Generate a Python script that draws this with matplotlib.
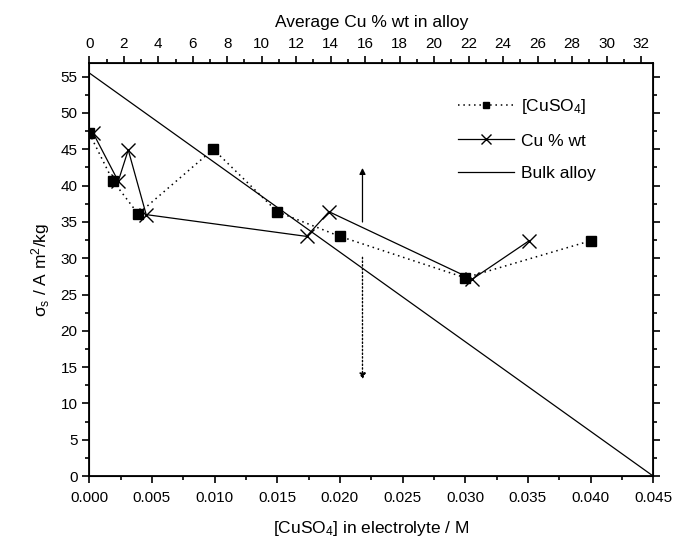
import numpy as np
import matplotlib.pyplot as plt
from matplotlib.ticker import MultipleLocator

plt.rcParams['font.family'] = ['Liberation Sans', 'DejaVu Sans']
plt.rcParams['mathtext.default'] = 'regular'

# [CuSO4] series (bottom axis)
conc = [0.0, 0.0019, 0.0039, 0.0099, 0.015, 0.020, 0.030, 0.040]
sig_conc = [47.2, 40.6, 36.1, 45.0, 36.4, 33.0, 27.3, 32.4]

# Cu % wt series (top axis)
cu_wt = [0.23, 1.68, 2.26, 3.3, 12.6, 13.9, 22.2, 25.5]
sig_cu = [47.2, 40.6, 44.9, 36.0, 33.0, 36.4, 27.1, 32.4]

# bulk alloy line (bottom axis)
bulk_x = [0.0, 0.045]
bulk_y = [55.5, 0.0]

fig = plt.figure(figsize=(6.92, 5.46), dpi=100)
ax = fig.add_axes([0.129, 0.128, 0.815, 0.757])

l1, = ax.plot(conc, sig_conc, color='black', linestyle=(0, (1, 2.5)), lw=1.1,
              marker='s', markersize=7, label='[CuSO$_4$]')
l3, = ax.plot(bulk_x, bulk_y, color='black', lw=0.9, label='Bulk alloy')

ax.set_xlim(0, 0.045)
ax.set_ylim(0, 56.9)
ax.xaxis.set_major_locator(MultipleLocator(0.005))
ax.xaxis.set_minor_locator(MultipleLocator(0.0025))
ax.yaxis.set_major_locator(MultipleLocator(5))
ax.yaxis.set_minor_locator(MultipleLocator(2.5))
ax.xaxis.set_major_formatter(plt.FormatStrFormatter('%.3f'))
ax.tick_params(which='both', direction='out', right=True, labelsize=11, width=1.2)
ax.tick_params(which='major', length=5)
ax.tick_params(which='minor', length=3)
ax.tick_params(axis='x', pad=6)
for s in ax.spines.values():
    s.set_linewidth(1.3)

# arrows
ax.annotate('', xy=(0.0218, 42.8), xytext=(0.0218, 34.6),
            arrowprops=dict(arrowstyle='-|>', color='black', lw=0.9, mutation_scale=9))
ax.annotate('', xy=(0.0218, 12.9), xytext=(0.0218, 30.5),
            arrowprops=dict(arrowstyle='-|>', color='black', lw=1.0, linestyle=':',
                            mutation_scale=9))

ax.set_xlabel('[CuSO$_4$] in electrolyte / M', fontsize=12.5, labelpad=10)
ax.set_ylabel('σ$_s$ / A m$^2$/kg', fontsize=12.5, labelpad=6)

ax2 = ax.twiny()
l2, = ax2.plot(cu_wt, sig_cu, color='black', lw=0.9, marker='x', markersize=10,
               markeredgewidth=1.0, label='Cu % wt')
ax2.set_xlim(0, 32.7)
ax2.xaxis.set_major_locator(MultipleLocator(2))
ax2.xaxis.set_minor_locator(MultipleLocator(1))
ax2.tick_params(which='both', direction='out', labelsize=11, width=1.2)
ax2.tick_params(which='major', length=5)
ax2.tick_params(which='minor', length=3)
ax2.set_xlabel('Average Cu % wt in alloy', fontsize=12.5, labelpad=7)

leg = ax.legend(handles=[l1, l2, l3], loc='upper right', bbox_to_anchor=(0.925, 0.955),
                frameon=False, fontsize=12.5, handlelength=3.2, handletextpad=0.4,
                labelspacing=1.0, markerscale=0.7)

fig.savefig('out.png', dpi=100)
